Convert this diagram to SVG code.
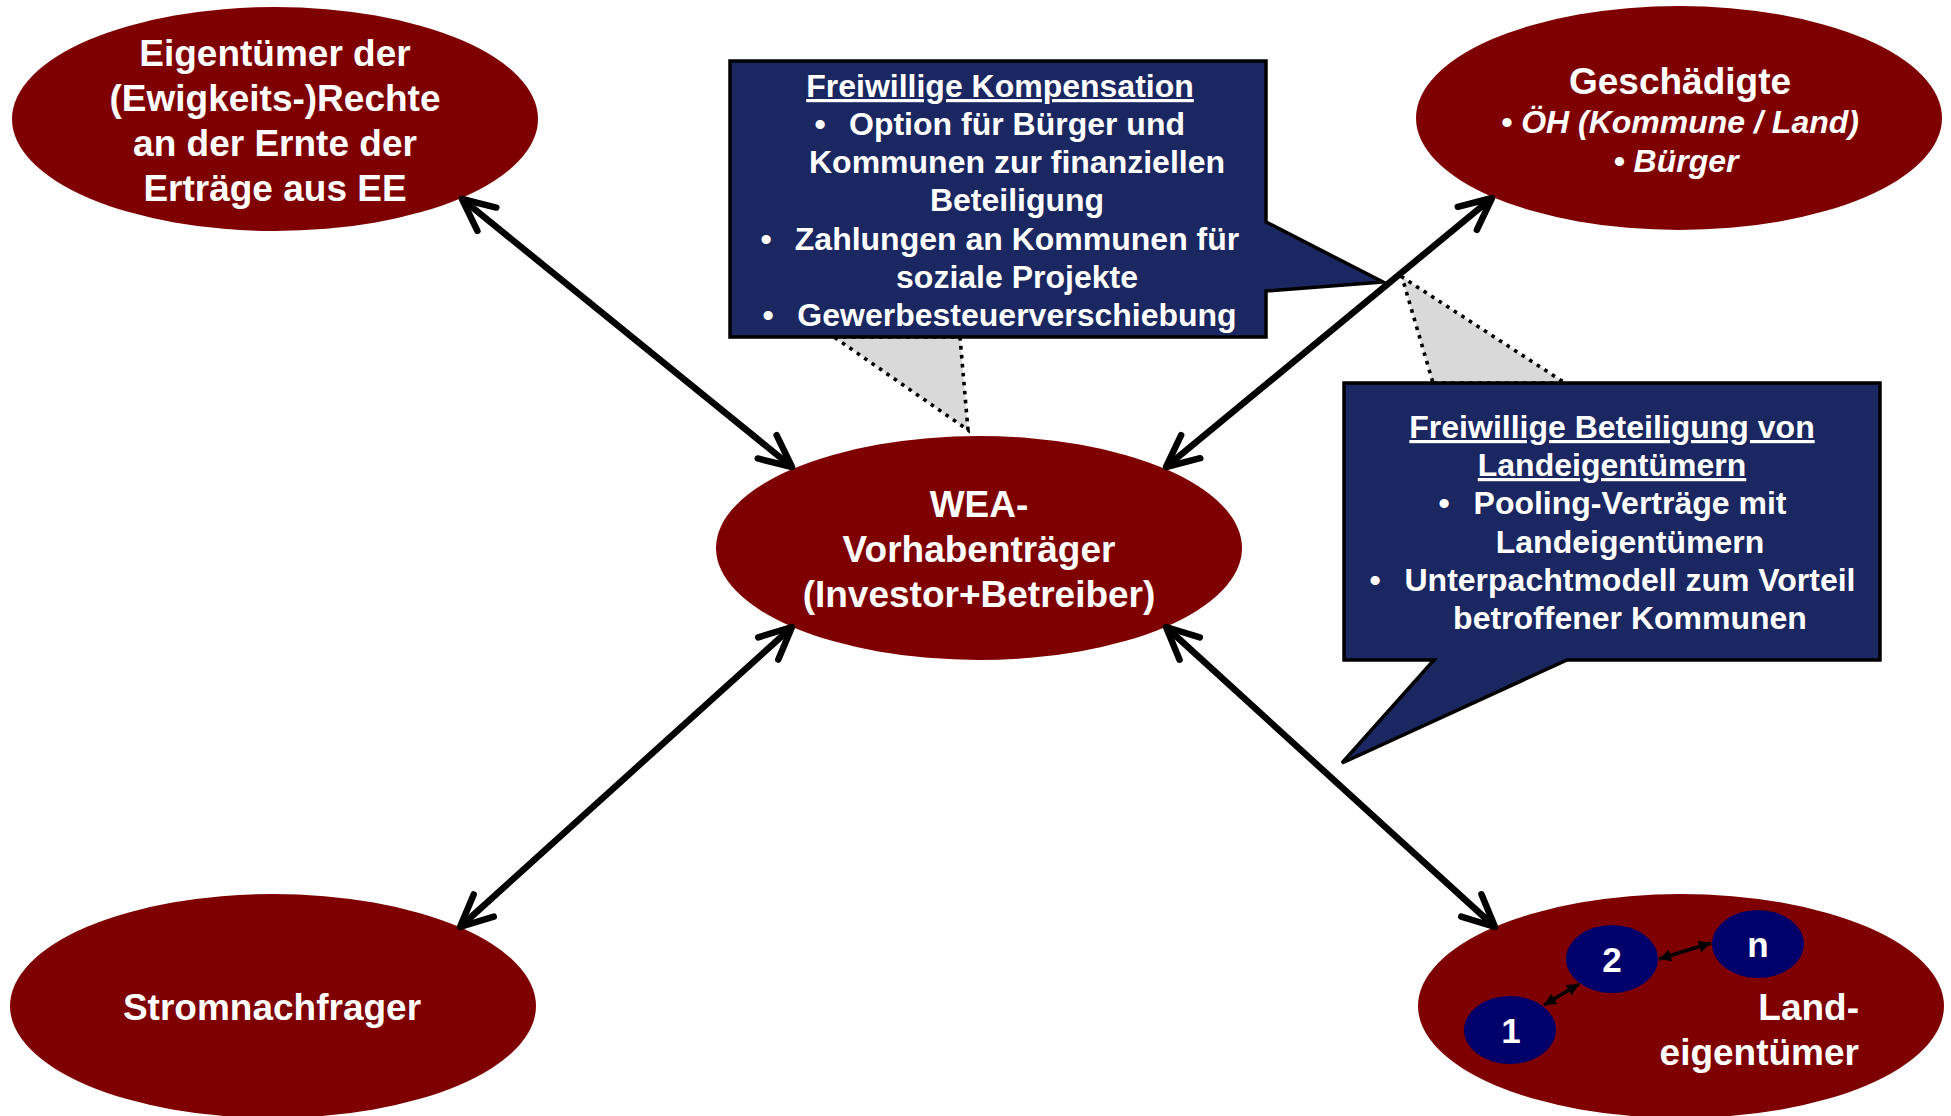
<svg xmlns="http://www.w3.org/2000/svg" width="1951" height="1116" viewBox="0 0 1951 1116">
<style>
text{font-family:"Liberation Sans",Arial,sans-serif;font-weight:bold;fill:#fff}
.big{font-size:37px;text-anchor:middle}
.box{font-size:32px;text-anchor:middle}
.ul{text-decoration:underline}
.it{font-style:italic;font-size:32px;text-anchor:middle}
.num{font-size:35px;text-anchor:middle}
.node{fill:#7f0000}
.sub{fill:#00006b}
.callout{fill:#1b2760;stroke:#000;stroke-width:3.5;stroke-linejoin:miter}
.tri{fill:#d9d9d9;stroke:#000;stroke-width:3.6;stroke-dasharray:3.6 5.4}
.conn{fill:none;stroke:#000;stroke-width:6.5}
.thin{fill:none;stroke:#000;stroke-width:3.5}
</style>
<defs>
<marker id="ah" markerUnits="userSpaceOnUse" orient="auto-start-reverse" refX="0" refY="0" viewBox="-40 -20 45 40" markerWidth="45" markerHeight="40" overflow="visible">
<path d="M -32 -15 L 0 0 L -32 15" fill="none" stroke="#000" stroke-width="6.5" stroke-linecap="round" stroke-linejoin="round"/>
</marker>
<marker id="sa" markerUnits="userSpaceOnUse" orient="auto-start-reverse" refX="0" refY="0" viewBox="-12 -7 14 14" markerWidth="14" markerHeight="14" overflow="visible">
<path d="M -12 -6 L 0 0 L -12 6 Z" fill="#000"/>
</marker>
</defs>

<g id="callout-tails">
<polygon class="tri" points="834,337 960,337 968,430"/>
<polygon class="tri" points="1433,383 1565,383 1402,277"/>
</g>

<g id="node-eigentuemer">
<ellipse class="node" cx="275" cy="119" rx="263" ry="112"/>
<text class="big" x="275" y="66">Eigentümer der</text>
<text class="big" x="275" y="111">(Ewigkeits-)Rechte</text>
<text class="big" x="275" y="156">an der Ernte der</text>
<text class="big" x="275" y="201">Erträge aus EE</text>
</g>

<g id="node-geschaedigte">
<ellipse class="node" cx="1679" cy="118" rx="263" ry="112"/>
<text class="big" x="1680" y="94">Geschädigte</text>
<text class="it" x="1680" y="133">• ÖH (Kommune / Land)</text>
<text class="it" x="1676" y="172">• Bürger</text>
</g>

<g id="node-wea">
<ellipse class="node" cx="979" cy="548" rx="263" ry="112"/>
<text class="big" x="979" y="517">WEA-</text>
<text class="big" x="979" y="562">Vorhabenträger</text>
<text class="big" x="979" y="607">(Investor+Betreiber)</text>
</g>

<g id="node-strom">
<ellipse class="node" cx="273" cy="1006" rx="263" ry="112"/>
<text class="big" x="272" y="1020">Stromnachfrager</text>
</g>

<g id="node-land">
<ellipse class="node" cx="1681" cy="1006" rx="263" ry="112"/>
<text class="big" x="1859" y="1020" style="text-anchor:end">Land-</text>
<text class="big" x="1859" y="1065" style="text-anchor:end">eigentümer</text>
</g>

<g id="node-land-1">
<ellipse class="sub" cx="1510" cy="1030" rx="46" ry="34"/>
<text class="num" x="1511" y="1043">1</text>
</g>
<g id="node-land-2">
<ellipse class="sub" cx="1612" cy="959" rx="46" ry="34"/>
<text class="num" x="1612" y="972">2</text>
</g>
<g id="node-land-n">
<ellipse class="sub" cx="1758" cy="944" rx="46" ry="34"/>
<text class="num" x="1758" y="957">n</text>
</g>

<g id="callout-kompensation">
<polygon class="callout" points="730,61 1266,61 1266,222 1383,282 1266,291 1266,337 730,337"/>
<text class="box ul" x="1000" y="97">Freiwillige Kompensation</text>
<text class="box" x="820" y="135">•</text>
<text class="box" x="1017" y="135">Option für Bürger und</text>
<text class="box" x="1017" y="173">Kommunen zur finanziellen</text>
<text class="box" x="1017" y="211">Beteiligung</text>
<text class="box" x="766" y="250">•</text>
<text class="box" x="1017" y="250">Zahlungen an Kommunen für</text>
<text class="box" x="1017" y="288">soziale Projekte</text>
<text class="box" x="768" y="326">•</text>
<text class="box" x="1017" y="326">Gewerbesteuerverschiebung</text>
</g>

<g id="callout-beteiligung">
<polygon class="callout" points="1344,383 1880,383 1880,660 1567,660 1342,763 1434,660 1344,660"/>
<text class="box ul" x="1612" y="438">Freiwillige Beteiligung von</text>
<text class="box ul" x="1612" y="476">Landeigentümern</text>
<text class="box" x="1444" y="514">•</text>
<text class="box" x="1630" y="514">Pooling-Verträge mit</text>
<text class="box" x="1630" y="553">Landeigentümern</text>
<text class="box" x="1375" y="591">•</text>
<text class="box" x="1630" y="591">Unterpachtmodell zum Vorteil</text>
<text class="box" x="1630" y="629">betroffener Kommunen</text>
</g>

<g id="connectors">
<line class="conn" x1="462" y1="199" x2="792" y2="467" marker-start="url(#ah)" marker-end="url(#ah)"/>
<line class="conn" x1="1492" y1="198" x2="1166" y2="467" marker-start="url(#ah)" marker-end="url(#ah)"/>
<line class="conn" x1="460" y1="927" x2="792" y2="627" marker-start="url(#ah)" marker-end="url(#ah)"/>
<line class="conn" x1="1495" y1="927" x2="1166" y2="627" marker-start="url(#ah)" marker-end="url(#ah)"/>
<line class="thin" x1="1544" y1="1005" x2="1579" y2="984" marker-start="url(#sa)" marker-end="url(#sa)"/>
<line class="thin" x1="1659" y1="959" x2="1711" y2="943" marker-start="url(#sa)" marker-end="url(#sa)"/>
</g>
</svg>
